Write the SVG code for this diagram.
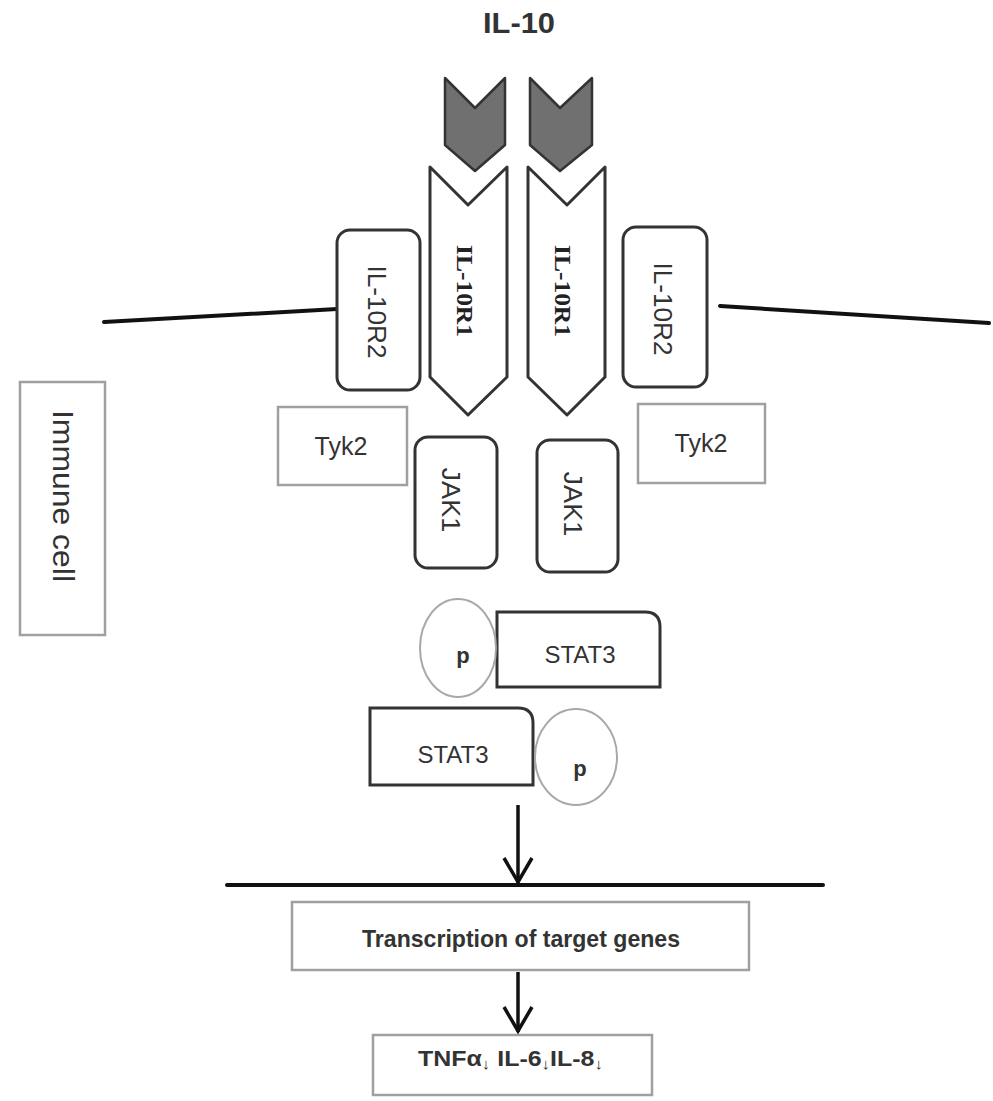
<svg xmlns="http://www.w3.org/2000/svg" width="993" height="1101" viewBox="0 0 993 1101">
<style>
.sans{font-family:"Liberation Sans",Arial,sans-serif;fill:#333}
.b{font-weight:bold}
.serifb{font-family:"Liberation Serif","Times New Roman",serif;font-weight:bold;fill:#222}
.rbox{fill:#fff;stroke:#333;stroke-width:3}
.gbox{fill:#fff;stroke:#a0a0a0;stroke-width:2.5}
.circ{fill:#fff;stroke:#a8a8a8;stroke-width:2}
.line{stroke:#111;stroke-width:4;fill:none;stroke-linecap:round}
.arrow{stroke:#111;stroke-width:3.5;fill:none}
</style>
<rect width="993" height="1101" fill="#fff"/>

<g id="title"><text class="sans b" x="519" y="33" font-size="29" text-anchor="middle" textLength="72" lengthAdjust="spacingAndGlyphs">IL-10</text></g>

<g id="membrane">
<line class="line" x1="104" y1="322" x2="337" y2="309"/>
<line class="line" x1="720" y1="306" x2="989" y2="323"/>
</g>

<g id="il10-left"><polygon points="445,78 475,108 505,78 505,145 475,171 445,145" fill="#707070" stroke="#333" stroke-width="2.5" stroke-linejoin="round"/></g>
<g id="il10-right"><polygon points="530,78 560,108 592,78 592,145 560,171 530,145" fill="#707070" stroke="#333" stroke-width="2.5" stroke-linejoin="round"/></g>

<g id="il10r1-left">
<polygon points="430,167 468,205 507,167 507,377 468,415 430,377" fill="#fff" stroke="#333" stroke-width="3" stroke-linejoin="round"/>
<text class="serifb" transform="translate(465,291) rotate(90)" font-size="24" text-anchor="middle" dominant-baseline="central" textLength="92" lengthAdjust="spacingAndGlyphs">IL-10R1</text>
</g>
<g id="il10r1-right">
<polygon points="528,167 567,205 605,167 605,377 567,415 528,377" fill="#fff" stroke="#333" stroke-width="3" stroke-linejoin="round"/>
<text class="serifb" transform="translate(563,291) rotate(90)" font-size="24" text-anchor="middle" dominant-baseline="central" textLength="92" lengthAdjust="spacingAndGlyphs">IL-10R1</text>
</g>

<g id="il10r2-left">
<rect class="rbox" x="337" y="230" width="83" height="160" rx="13"/>
<text class="sans" transform="translate(377,312) rotate(90)" font-size="26" text-anchor="middle" dominant-baseline="central" textLength="93" lengthAdjust="spacingAndGlyphs">IL-10R2</text>
</g>
<g id="il10r2-right">
<rect class="rbox" x="623" y="227" width="84" height="160" rx="13"/>
<text class="sans" transform="translate(663,309) rotate(90)" font-size="26" text-anchor="middle" dominant-baseline="central" textLength="93" lengthAdjust="spacingAndGlyphs">IL-10R2</text>
</g>

<g id="tyk2-left">
<rect class="gbox" x="278" y="407" width="129" height="78"/>
<text class="sans" x="341" y="455" font-size="25" text-anchor="middle">Tyk2</text>
</g>
<g id="tyk2-right">
<rect class="gbox" x="638" y="404" width="127" height="79"/>
<text class="sans" x="701" y="452" font-size="25" text-anchor="middle">Tyk2</text>
</g>

<g id="jak1-left">
<rect class="rbox" x="415" y="437" width="82" height="131" rx="13"/>
<text class="sans" transform="translate(451,500) rotate(90)" font-size="26" text-anchor="middle" dominant-baseline="central" textLength="65" lengthAdjust="spacingAndGlyphs">JAK1</text>
</g>
<g id="jak1-right">
<rect class="rbox" x="537" y="440" width="81" height="132" rx="13"/>
<text class="sans" transform="translate(573,504) rotate(90)" font-size="26" text-anchor="middle" dominant-baseline="central" textLength="65" lengthAdjust="spacingAndGlyphs">JAK1</text>
</g>

<g id="immune-cell">
<rect class="gbox" x="20" y="382" width="85" height="253"/>
<text class="sans" transform="translate(63,496) rotate(90)" font-size="30" text-anchor="middle" dominant-baseline="central" textLength="172" lengthAdjust="spacingAndGlyphs">Immune cell</text>
</g>

<g id="stat3-upper">
<path class="rbox" d="M497,612 H645 Q660,612 660,627 V687 H497 Z"/>
<text class="sans" x="580" y="663" font-size="24" text-anchor="middle">STAT3</text>
</g>
<g id="p-upper">
<ellipse class="circ" cx="458" cy="648" rx="38" ry="49"/>
<text class="sans b" x="463" y="663" font-size="22" text-anchor="middle">p</text>
</g>
<g id="stat3-lower">
<path class="rbox" d="M370,708 H518 Q533,708 533,723 V785 H370 Z"/>
<text class="sans" x="453" y="763" font-size="24" text-anchor="middle">STAT3</text>
</g>
<g id="p-lower">
<ellipse class="circ" cx="576" cy="757" rx="41" ry="48"/>
<text class="sans b" x="580" y="776" font-size="22" text-anchor="middle">p</text>
</g>

<g id="nuclear-membrane"><line class="line" x1="227" y1="885" x2="823" y2="885"/></g>

<g id="transcription">
<rect class="gbox" x="292" y="902" width="457" height="68"/>
<text class="sans b" x="521" y="947" font-size="24" text-anchor="middle" textLength="318" lengthAdjust="spacingAndGlyphs">Transcription of target genes</text>
</g>

<g id="result">
<rect class="gbox" x="373" y="1035" width="279" height="60"/>
<text class="sans b" x="418" y="1066" font-size="22" textLength="185" lengthAdjust="spacingAndGlyphs">TNF<tspan>α</tspan><tspan font-size="15" dy="3">↓</tspan><tspan dy="-3"> IL-6</tspan><tspan font-size="15" dy="3">↓</tspan><tspan dy="-3">IL-8</tspan><tspan font-size="15" dy="3">↓</tspan></text>
</g>

<g id="connectors">
<line class="arrow" x1="518" y1="805" x2="518" y2="883"/>
<polyline class="arrow" points="504,858 518,882 532,858"/>
<line class="arrow" x1="518" y1="972" x2="518" y2="1032"/>
<polyline class="arrow" points="504,1007 518,1031 532,1007"/>
</g>
</svg>
